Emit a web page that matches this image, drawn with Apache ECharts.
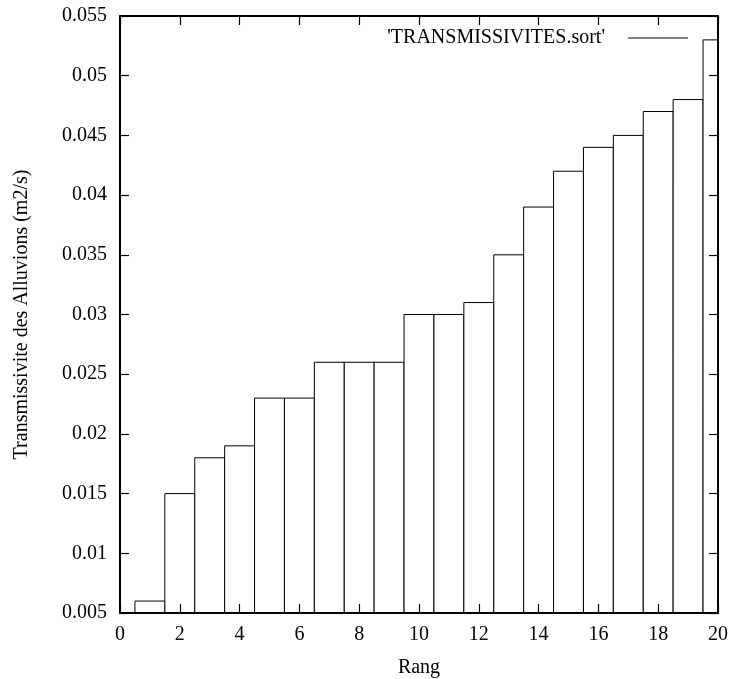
<!DOCTYPE html>
<html>
<head>
<meta charset="utf-8">
<script src="https://cdn.jsdelivr.net/npm/echarts@6/dist/echarts.min.js"></script>
<style>
  html, body { margin: 0; padding: 0; background: #fff; }
  #chart { width: 729px; height: 679px; }
</style>
</head>
<body>
<div id="chart"></div>
<script>
// rang 1..20, valeurs triees
const rangs = [1, 2, 3, 4, 5, 6, 7, 8, 9, 10, 11, 12, 13, 14, 15, 16, 17, 18, 19, 20];
const transmissivites = [0.006, 0.015, 0.018, 0.019, 0.023, 0.023, 0.026, 0.026, 0.026, 0.030,
  0.030, 0.031, 0.035, 0.039, 0.042, 0.044, 0.045, 0.047, 0.048, 0.053];
const seriesName = "'TRANSMISSIVITES.sort'";

const yMin = 0.005;
const fontFam = 'Liberation Serif';
const fs = 20;

const chart = echarts.init(document.getElementById('chart'));

// ticks vers l'interieur, style gnuplot
function tick() {
  return { show: true, inside: true, length: 9, lineStyle: { color: '#000', width: 1.2 } };
}
function line() {
  return { show: true, onZero: false, lineStyle: { color: '#000', width: 2 } };
}

const option = {
  animation: false,
  backgroundColor: '#fff',
  textStyle: { fontFamily: fontFam },
  grid: { left: 120, right: 11, top: 16, bottom: 66, outerBoundsMode: 'none', containLabel: false },
  legend: {
    data: [{ name: seriesName, icon: 'rect' }],
    right: 36, top: 23,
    align: 'right',
    itemWidth: 60, itemHeight: 1,
    itemStyle: { color: '#000', borderWidth: 0 },
    textStyle: { fontFamily: fontFam, fontSize: fs, color: '#000', padding: [0, 18, 0, 0] }
  },
  xAxis: [
    {
      type: 'value', min: 0, max: 20, interval: 2, z: 5,
      name: 'Rang', nameLocation: 'middle', nameGap: 45,
      nameTextStyle: { fontFamily: fontFam, fontSize: fs, color: '#000' },
      axisLine: line(), axisTick: tick(),
      axisLabel: { fontFamily: fontFam, fontSize: fs, color: '#000', margin: 12 },
      splitLine: { show: false }
    },
    {
      type: 'value', min: 0, max: 20, interval: 2, position: 'top', z: 5,
      axisLine: line(), axisTick: tick(),
      axisLabel: { show: false }, splitLine: { show: false }
    }
  ],
  yAxis: [
    {
      type: 'value', min: 0.005, max: 0.055, interval: 0.005, z: 5,
      name: 'Transmissivite des Alluvions (m2/s)', nameLocation: 'middle', nameGap: 88,
      nameTextStyle: { fontFamily: fontFam, fontSize: fs, color: '#000' },
      axisLine: line(), axisTick: tick(),
      axisLabel: {
        fontFamily: fontFam, fontSize: fs, color: '#000', margin: 13,
        formatter: v => String(parseFloat(v.toFixed(3)))
      },
      splitLine: { show: false }
    },
    {
      type: 'value', min: 0.005, max: 0.055, interval: 0.005, position: 'right', z: 5,
      axisLine: line(), axisTick: tick(),
      axisLabel: { show: false }, splitLine: { show: false }
    }
  ],
  series: [
    {
      name: seriesName,
      type: 'custom',
      clip: true,
      z: 2,
      data: rangs.map((r, i) => [r, transmissivites[i]]),
      renderItem: function (params, api) {
        const x = api.value(0), y = api.value(1);
        const p0 = api.coord([x - 0.5, yMin]);
        const p1 = api.coord([x + 0.5, y]);
        return {
          type: 'rect',
          shape: { x: p0[0], y: p1[1], width: p1[0] - p0[0], height: p0[1] - p1[1] },
          style: { fill: '#fff', stroke: '#000', lineWidth: 1 }
        };
      }
    }
  ]
};

chart.setOption(option);
</script>
</body>
</html>
